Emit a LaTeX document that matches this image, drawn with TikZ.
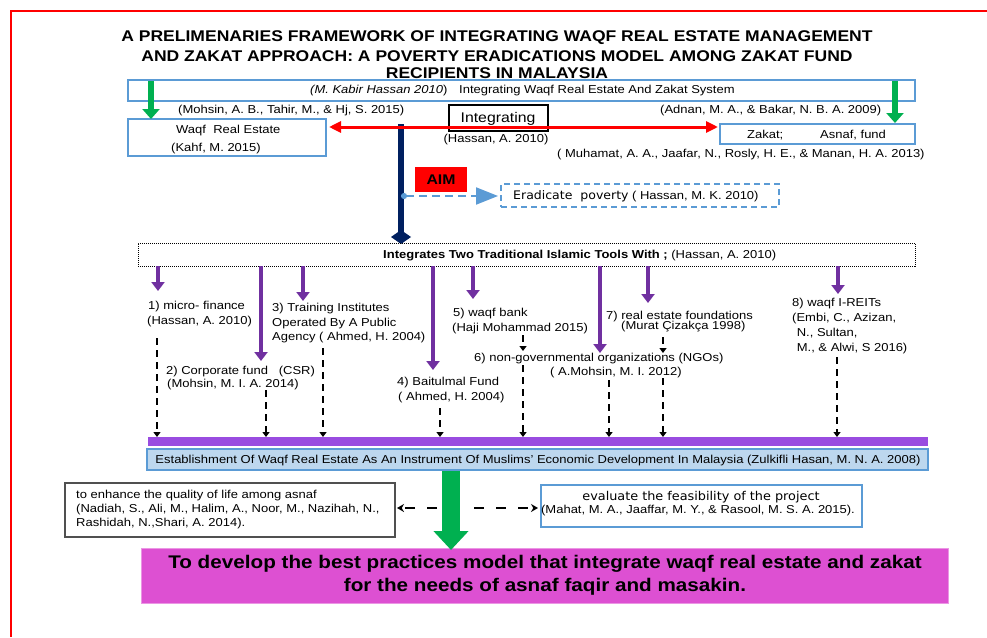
\documentclass[tikz,border=0pt]{standalone}
\usepackage{fontspec}
\setmainfont{Liberation Sans}[FakeStretch=1.13]
\newfontfamily\verdfont{DejaVu Sans}[FakeStretch=1.06]
\usetikzlibrary{arrows.meta}

\definecolor{boxblue}{RGB}{91,155,213}
\definecolor{navy}{RGB}{0,32,96}
\definecolor{toolpurple}{RGB}{112,48,160}
\definecolor{barpurple}{RGB}{153,76,224}
\definecolor{arrowgreen}{RGB}{0,176,80}
\definecolor{paleblue}{RGB}{189,215,238}
\definecolor{goalmagenta}{RGB}{221,80,210}
\definecolor{boxgray}{RGB}{80,80,80}

\tikzset{
  lbl/.style={inner sep=0pt, anchor=base west, font=\fontsize{11.5}{13}\selectfont},
  lblc/.style={inner sep=0pt, anchor=base, font=\fontsize{11.5}{13}\selectfont},
  ttl/.style={inner sep=0pt, anchor=base, font=\fontsize{15.5}{19}\selectfont\bfseries},
  panel/.style={anchor=north west, inner sep=0pt, outer sep=0pt},
  bluebox/.style={panel, draw=boxblue, line width=2pt},
  toolarrow/.style={draw=toolpurple, line width=4pt, -{Triangle[width=13pt,length=9pt]}},
  feedarrow/.style={draw=black, line width=2.6pt, dash pattern=on 7pt off 5pt, -{Triangle[width=7pt,length=5pt]}},
  greenarrow/.style={draw=arrowgreen, line width=6pt, -{Triangle[width=17pt,length=10pt]}},
  sidearrow/.style={draw=black, line width=1.8pt, dash pattern=on 10pt off 12pt, -{Stealth[width=8pt,length=7pt]}},
}

\begin{document}
\begin{tikzpicture}[x=1pt,y=-1pt]
\useasboundingbox (0,0) rectangle (987,637);
\fill[white] (0,0) rectangle (987,637);

% page frame
\draw[red, line width=1.5pt] (11,637) -- (11,11) -- (987,11);

% title
\node[ttl] (title1) at (497,41) {A PRELIMENARIES FRAMEWORK OF INTEGRATING WAQF REAL ESTATE MANAGEMENT};
\node[ttl] (title2) at (497,61) {AND ZAKAT APPROACH: A POVERTY ERADICATIONS MODEL AMONG ZAKAT FUND};
\node[ttl] (title3) at (497,78) {RECIPIENTS IN MALAYSIA};

% top band
\node[bluebox, fill=white, minimum width=787pt, minimum height=21pt] (band) at (128,80) {};
\node[lbl] (bandcite) at (310,93) {{\itshape(M. Kabir Hassan 2010\/})};
\node[lbl] (bandtitle) at (459,93) {Integrating Waqf Real Estate And Zakat System};

% the two pillars
\node[bluebox, minimum width=198pt, minimum height=37pt] (waqf) at (128,119) {};
\node[lbl] (waqfname) at (176,133) {Waqf\ \ Real Estate};
\node[lbl] (waqfcite) at (171,151) {(Kahf, M. 2015)};

\node[bluebox, minimum width=195pt, minimum height=20pt] (zakat) at (720,124) {};
\node[lbl] (zakatname) at (747,138) {Zakat;};
\node[lbl] (asnaf) at (820,138) {Asnaf, fund};
\node[lbl] (zakatcite) at (557,157) {( Muhamat, A. A., Jaafar, N., Rosly, H. E., \& Manan, H. A. 2013)};

\node[lbl] (citeL) at (178,113) {(Mohsin, A. B., Tahir, M., \& Hj, S. 2015)};
\node[lbl] (citeR) at (660,113) {(Adnan, M. A., \& Bakar, N. B. A. 2009)};

\coordinate (gl1) at (151,81);
\coordinate (gl2) at (151,119);
\coordinate (gr1) at (895,81);
\coordinate (gr2) at (895,123);
\draw[greenarrow] (gl1) -- (gl2);
\draw[greenarrow] (gr1) -- (gr2);

% integrating link
\node[panel, draw=black, line width=1.2pt, minimum width=99pt, minimum height=26pt] (intbox) at (449,105) {};
\node[lblc, font=\fontsize{14}{16}\selectfont] (intlabel) at (498,122) {Integrating};
\node[lblc] (intcite) at (496,142) {(Hassan, A. 2010)};

\coordinate (navyTop) at (401,124);
\coordinate (navyEnd) at (401,244);
\draw[navy, line width=6pt, -{Diamond[width=20pt,length=14pt]}] (navyTop) -- (navyEnd);

\coordinate (redL) at (329,127);
\coordinate (redR) at (718,127);
\draw[red, line width=3pt, {Triangle[width=11pt,length=12pt]}-{Triangle[width=11pt,length=12pt]}] (redL) -- (redR);

% aim
\node[fill=red, minimum width=52pt, minimum height=25pt, inner sep=0pt, font=\fontsize{14}{16}\selectfont\bfseries] (aim) at (441,179.5) {AIM};
\node[panel, draw=boxblue, line width=2pt, dash pattern=on 6pt off 4pt, minimum width=278pt, minimum height=23pt] (goalbox) at (501,184) {};
\node[lbl] (goaltxt) at (513,199) {{\verdfont\fontsize{11.8}{13}\selectfont Eradicate\ \ poverty} ( Hassan, M. K. 2010)};
\coordinate (aimStart) at (401,196);
\coordinate (aimEnd) at (498,196);
\draw[boxblue, line width=2pt, dash pattern=on 8pt off 5pt, {Circle[length=6pt]}-{Triangle[width=17pt,length=22pt]}] (aimStart) -- (aimEnd);

% tools
\node[panel, draw=black, densely dotted, line width=1pt, minimum width=777pt, minimum height=23pt] (toolsbox) at (138,243) {};
\node[lbl] (toolstxt) at (383,258) {\textbf{Integrates Two Traditional Islamic Tools With ;} (Hassan, A. 2010)};

\foreach \n/\x/\y in {1/158/291, 2/261/361, 3/303/301, 4/433/370, 5/473/299, 6/600/353, 7/648/303, 8/838/294} {
  \coordinate (ts\n) at (\x,266);
  \coordinate (te\n) at (\x,\y);
  \draw[toolarrow] (ts\n) -- (te\n);
}

\node[lbl] (tool1a) at (148,309) {1) micro- finance};
\node[lbl] (tool1b) at (147,324) {(Hassan, A. 2010)};
\node[lbl] (tool2a) at (166,374) {2) Corporate fund\ \ \ (CSR)};
\node[lbl] (tool2b) at (167,387) {(Mohsin, M. I. A. 2014)};
\node[lbl] (tool3a) at (272,311) {3) Training Institutes};
\node[lbl] (tool3b) at (272,326) {Operated By A Public};
\node[lbl] (tool3c) at (272,340) {Agency ( Ahmed, H. 2004)};
\node[lbl] (tool4a) at (397,385) {4) Baitulmal Fund};
\node[lbl] (tool4b) at (398,400) {( Ahmed, H. 2004)};
\node[lbl] (tool5a) at (453,316) {5) waqf bank};
\node[lbl] (tool5b) at (452,331) {(Haji Mohammad 2015)};
\node[lbl] (tool6a) at (474,361) {6) non-governmental organizations (NGOs)};
\node[lbl] (tool6b) at (550,375) {( A.Mohsin, M. I. 2012)};
\node[lbl] (tool7a) at (606,319) {7) real estate foundations};
\node[lbl] (tool7b) at (621,329) {(Murat Çizakça 1998)};
\node[lbl] (tool8a) at (792,306) {8) waqf I-REITs};
\node[lbl] (tool8b) at (792,321) {(Embi, C., Azizan,};
\node[lbl] (tool8c) at (793,336) {\ N., Sultan,};
\node[lbl] (tool8d) at (793,351) {\ M., \& Alwi, S 2016)};

% feeds into the establishment bar
\foreach \n/\x/\y in {1/157/338, 2/266/390, 3/323/348, 4/440/408, 5/523/365, 6/609/380, 7/663/378, 8/837/357} {
  \coordinate (fs\n) at (\x,\y);
  \coordinate (fe\n) at (\x,437);
  \draw[feedarrow] (fs\n) -- (fe\n);
}
\coordinate (fsA) at (523,335);
\coordinate (feA) at (523,351);
\coordinate (fsB) at (663,337);
\coordinate (feB) at (663,353);
\draw[feedarrow] (fsA) -- (feA);
\draw[feedarrow] (fsB) -- (feB);

\node[panel, fill=barpurple, minimum width=780pt, minimum height=9pt] (bar) at (148,437) {};
\node[panel, draw=boxblue, fill=paleblue, line width=2pt, minimum width=781pt, minimum height=21pt] (estab) at (147,449) {};
\node[lblc] (estabtxt) at (538,463) {Establishment Of Waqf Real Estate As An Instrument Of Muslims' Economic Development In Malaysia (Zulkifli Hasan, M. N. A. 2008)};

% outcomes
\node[panel, draw=boxgray, line width=1.3pt, minimum width=330pt, minimum height=54pt] (enhbox) at (65,483) {};
\node[lbl] (enh1) at (76,498) {to enhance the quality of life among asnaf};
\node[lbl] (enh2) at (76,512) {(Nadiah, S., Ali, M., Halim, A., Noor, M., Nazihah, N.,};
\node[lbl] (enh3) at (76,526) {Rashidah, N.,Shari, A. 2014).};

\node[bluebox, minimum width=321pt, minimum height=42pt] (evalbox) at (541,485) {};
\node[lblc, font=\verdfont\fontsize{12.1}{14}\selectfont] (eval1) at (701,500) {evaluate the feasibility of the project};
\node[lblc] (eval2) at (698,513) {(Mahat, M. A., Jaaffar, M. Y., \& Rasool, M. S. A. 2015).};

\coordinate (dl1) at (437,508);
\coordinate (dl2) at (397,508);
\coordinate (dr1) at (474,508);
\coordinate (dr2) at (538,508);
\draw[sidearrow] (dl1) -- (dl2);
\draw[sidearrow] (dr1) -- (dr2);

\node[panel, fill=goalmagenta, draw=goalmagenta!60!white, line width=1pt, minimum width=807pt, minimum height=55pt] (goal) at (141,548) {};
\node[lblc, font=\fontsize{18.3}{21}\selectfont\bfseries] (goal1) at (545,568) {To develop the best practices model that integrate waqf real estate and zakat};
\node[lblc, font=\fontsize{18.3}{21}\selectfont\bfseries] (goal2) at (545,591) {for the needs of asnaf faqir and masakin.};

\coordinate (gbTop) at (451,471);
\coordinate (gbTip) at (451,550);
\draw[arrowgreen, line width=18pt, -{Triangle[width=34pt,length=19pt]}] (gbTop) -- (gbTip);
\end{tikzpicture}
\end{document}
